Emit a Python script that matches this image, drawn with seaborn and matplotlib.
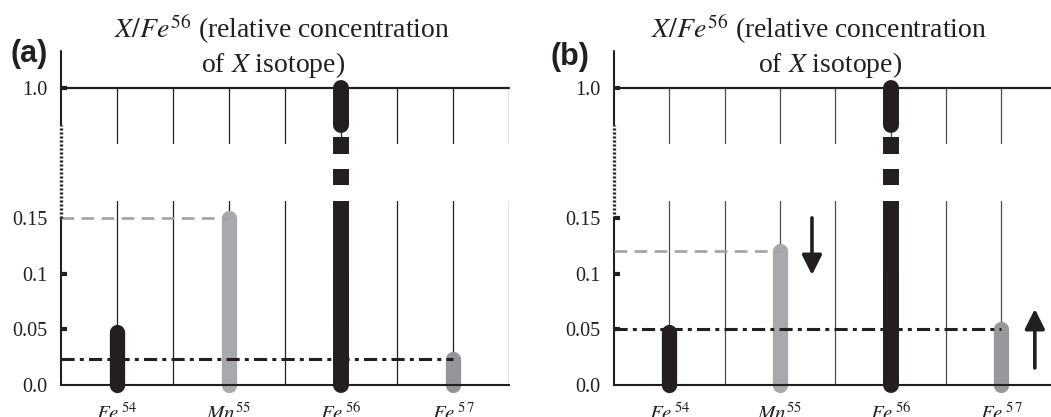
import numpy as np
import pandas as pd
import matplotlib
matplotlib.use("Agg")
import matplotlib.pyplot as plt
import seaborn as sns

# ---------------- data ----------------
isotopes = ["Fe54", "Mn55", "Fe56", "Fe57"]
x_labels = [r"$\mathit{Fe}^{\,54}$", r"$\mathit{Mn}^{55}$",
            r"$\mathit{Fe}^{\,56}$", r"$\mathit{Fe}^{\,5\,7}$"]
positions = [1, 3, 5, 7]
values_a = [0.048, 0.15, 1.0, 0.023]
values_b = [0.048, 0.12, 1.0, 0.05]
ytick_values = [0.0, 0.05, 0.1, 0.15, 1.0]
ytick_labels = ["0.0", "0.05", "0.1", "0.15", "1.0"]
yticks_marked_a = [0.05, 0.1, 1.0]
yticks_marked_b = [0.05, 0.1, 0.15, 1.0]
colors_a = {"Fe54": "#231f20", "Mn55": "#a7a9ac", "Fe56": "#231f20", "Fe57": "#939598"}
colors_b = {"Fe54": "#231f20", "Mn55": "#a7a9ac", "Fe56": "#231f20", "Fe57": "#97989b"}

# ---------------- style ----------------
sns.set_theme(style="white")
plt.rcParams["font.family"] = ["Liberation Serif", "DejaVu Serif"]
plt.rcParams["mathtext.fontset"] = "stix"

DARK = "#231f20"
LOW = 0.15          # end of linear part of the broken axis
K = 0.1374          # compression of the 0.15..1.0 part


def fwd(v):
    v = np.asarray(v, dtype=float)
    return np.where(v <= LOW, v, LOW + (v - LOW) * K)


def inv(t):
    t = np.asarray(t, dtype=float)
    return np.where(t <= LOW, t, LOW + (t - LOW) / K)


W, H = 1051, 417
Y0_PX, YTOP_PX, PX_PER_LOW = 385, 51, 167 / 0.15
YTOP = float(inv((Y0_PX - YTOP_PX) / PX_PER_LOW))
GRID_GAP = (0.261, 0.64)     # gap of the vertical grid lines
AXIS_DOT = (0.15, 0.757)     # dotted part of the left axis
BAR_GAP = (0.261, 0.757)     # gap of the big Fe56 bar
SQUARES = [(0.365, 0.470), (0.568, 0.680)]

fig = plt.figure(figsize=(W / 100, H / 100), dpi=100)
ax_h = (Y0_PX - YTOP_PX) / H
ax_a = fig.add_axes([61 / W, (H - Y0_PX) / H, 448 / W, ax_h])
ax_b = fig.add_axes([614 / W, (H - Y0_PX) / H, 437 / W, ax_h])


def draw_panel(ax, values, colors, xmax, grid_color, marked, right_border):
    ax.set_yscale("function", functions=(fwd, inv))
    ax.set_xlim(0, xmax)
    ax.set_ylim(0, YTOP)

    # bars (round-capped) through seaborn
    rows = []
    for iso, pos, v in zip(isotopes, positions, values):
        if iso == "Fe56":
            continue
        rows.append({"isotope": iso, "x": pos, "y": 0.0})
        rows.append({"isotope": iso, "x": pos, "y": v})
    df = pd.DataFrame(rows)
    n0 = len(ax.lines)
    sns.lineplot(data=df, x="x", y="y", hue="isotope", estimator=None,
                 palette={k: colors[k] for k in df["isotope"].unique()},
                 lw=11, legend=False, ax=ax, sort=False)
    for ln in ax.lines[n0:]:
        ln.set_solid_capstyle("round")
        ln.set_clip_on(False)
        ln.set_zorder(2)
    ax.set_xlim(0, xmax)
    ax.set_ylim(0, YTOP)

    for s in ["right", "top"]:
        ax.spines[s].set_visible(False)
    ax.spines["bottom"].set_color(DARK)
    ax.spines["bottom"].set_linewidth(1.5)
    ax.spines["left"].set_color(DARK)
    ax.spines["left"].set_linewidth(1.5)
    ax.spines["left"].set_bounds(0, AXIS_DOT[0])

    # vertical grid lines, broken in the middle
    gx = list(range(1, 8)) + ([8] if right_border else [])
    for x in gx:
        ax.plot([x, x], [0, GRID_GAP[0]], color=grid_color, lw=0.9, zorder=1)
        ax.plot([x, x], [GRID_GAP[1], 1.0], color=grid_color, lw=0.9, zorder=1)
    # top line at 1.0
    ax.plot([0, xmax], [1.0, 1.0], color=DARK, lw=1.6, zorder=1, clip_on=False)
    # left axis: dotted break + solid top part
    ax.plot([0, 0], [AXIS_DOT[0], AXIS_DOT[1]], color=DARK, lw=2.4,
            ls=(0, (0.6, 0.6)), clip_on=False, zorder=4)
    ax.plot([0, 0], [AXIS_DOT[1], YTOP], color=DARK, lw=1.5, clip_on=False, zorder=4)

    # Fe56 bar, broken
    i56 = isotopes.index("Fe56")
    p, v, c = positions[i56], values[i56], colors["Fe56"]
    ax.plot([p, p], [0, 0.1], color=c, lw=11.5, solid_capstyle="round", clip_on=False, zorder=2)
    ax.plot([p, p], [0.05, BAR_GAP[0]], color=c, lw=11.5, solid_capstyle="butt", zorder=2)
    for lo, hi in SQUARES:
        ax.plot([p, p], [lo, hi], color=c, lw=11.5, solid_capstyle="butt", zorder=2)
    ax.plot([p, p], [BAR_GAP[1], v], color=c, lw=11.5, solid_capstyle="round",
            clip_on=False, zorder=2)

    # reference lines
    i55 = isotopes.index("Mn55")
    ax.plot([0, positions[i55]], [values[i55]] * 2, color="#a0a2a5", lw=1.9,
            ls=(0, (4.8, 2.8)), zorder=3, clip_on=False)
    i57 = isotopes.index("Fe57")
    ax.plot([0, positions[i57]], [values[i57]] * 2, color=DARK, lw=2.2,
            ls=(0, (4.3, 1.7, 1.3, 1.7)), zorder=3, clip_on=False)

    # ticks: labels on major ticks, small dots on the marked (minor) ticks
    ax.set_yticks(ytick_values, ytick_labels)
    ax.yaxis.remove_overlapping_locs = False
    ax.yaxis.set_minor_locator(matplotlib.ticker.FixedLocator(marked))
    ax.yaxis.set_minor_formatter(matplotlib.ticker.NullFormatter())
    ax.tick_params(axis="y", which="major", length=0, pad=10, labelsize=14.5,
                   labelcolor=DARK, left=True)
    ax.tick_params(axis="y", which="minor", direction="in", length=4.5, width=3,
                   color=DARK, left=True)
    ax.set_xticks(positions, x_labels)
    ax.tick_params(axis="x", length=0, pad=13, labelsize=15, labelcolor=DARK)
    ax.set_xlabel("")
    ax.set_ylabel("")


draw_panel(ax_a, values_a, colors_a, 8, DARK, yticks_marked_a, True)
draw_panel(ax_b, values_b, colors_b, 437 / 55.3, "#4d4d4f", yticks_marked_b, False)

# arrows (panel b)
arrow_kw = dict(arrowstyle="-|>,head_length=0.6,head_width=0.3", lw=2.6,
                color=DARK, mutation_scale=20, shrinkA=0, shrinkB=0)
ax_b.annotate("", xy=(3.58, 0.0988), xytext=(3.58, 0.151), arrowprops=arrow_kw,
              annotation_clip=False)
ax_b.annotate("", xy=(7.61, 0.0683), xytext=(7.61, 0.0153), arrowprops=arrow_kw,
              annotation_clip=False)

# titles
tkw = dict(fontsize=20, color=DARK, ha="center", va="baseline")
fig.text(282 / W, 1 - 38 / H, r"$X/Fe^{56}$ (relative concentration", **tkw)
fig.text(273 / W, 1 - 72 / H, r"of $X$ isotope)", **tkw)
fig.text(819 / W, 1 - 38 / H, r"$X/Fe^{56}$ (relative concentration", **tkw)
fig.text(830 / W, 1 - 72 / H, r"of $X$ isotope)", **tkw)

lkw = dict(fontsize=22, fontweight="bold", family="Liberation Sans", color=DARK,
           va="baseline", ha="left")
fig.text(11 / W, 1 - 62 / H, "(a)", **lkw)
fig.text(551 / W, 1 - 65 / H, "(b)", **lkw)

fig.savefig("out.png", dpi=100)
